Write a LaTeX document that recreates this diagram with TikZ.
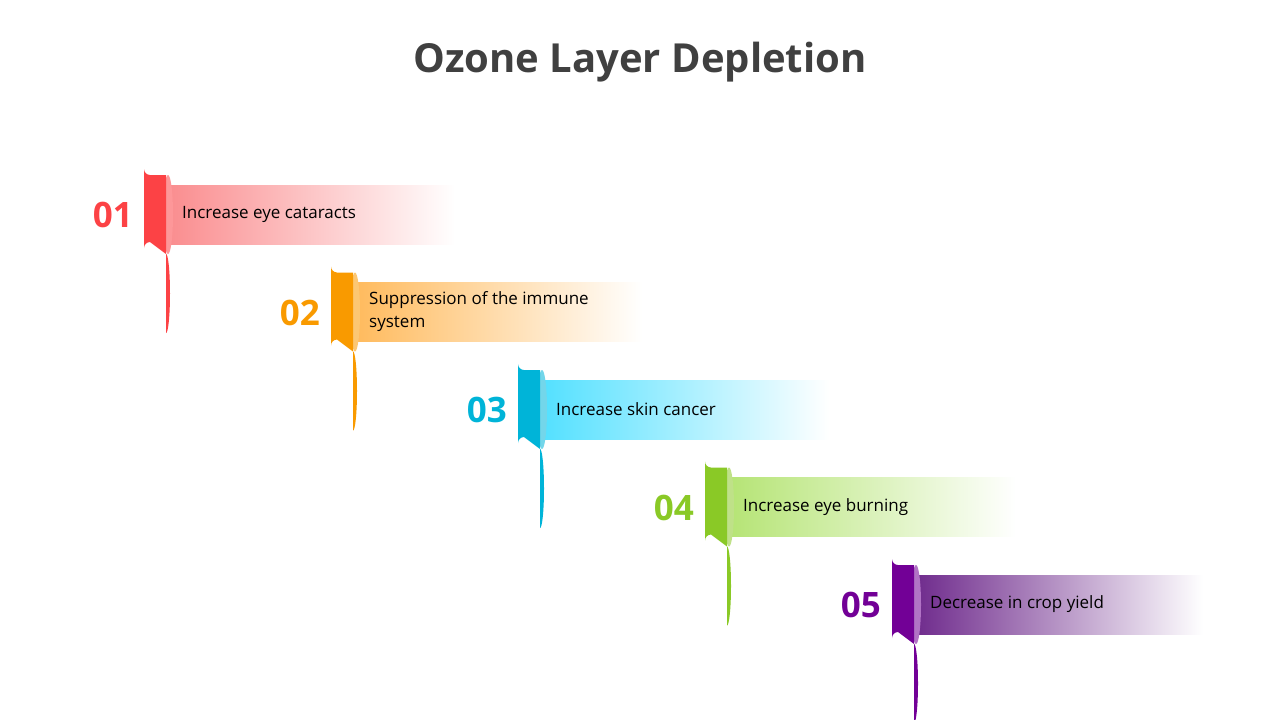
\documentclass[tikz,border=0pt]{standalone}
\usepackage{fontspec}
\setmainfont{Open Sans}
\begin{document}
\begin{tikzpicture}[x=1pt,y=-1pt,
  numtxt/.style={anchor=east,font=\bfseries\fontsize{35}{40}\selectfont,inner sep=0},
  bodytxt/.style={anchor=west,font=\fontsize{17}{23}\selectfont,text=black,align=left,inner sep=0}]
\useasboundingbox[fill=white] (0,0) rectangle (1280,720);
\node[font=\bfseries\fontsize{40}{46}\selectfont,text=black!75] (title) at (640,62) {Ozone Layer Depletion};
\definecolor{t1}{HTML}{FC4245}\definecolor{b1}{HTML}{FA8C8E}
\definecolor{t2}{HTML}{F99A00}\definecolor{b2}{HTML}{FFBA5C}
\definecolor{t3}{HTML}{00B4D8}\definecolor{b3}{HTML}{52E0FF}
\definecolor{t4}{HTML}{8AC926}\definecolor{b4}{HTML}{B5E474}
\definecolor{t5}{HTML}{720096}\definecolor{b5}{HTML}{6E2A8C}
\foreach \i/\n/\txt in {0/01/Increase eye cataracts,1/02/{Suppression of the immune\\system},2/03/Increase skin cancer,3/04/Increase eye burning,4/05/Decrease in crop yield}{
  \pgfmathtruncatemacro{\k}{\i+1}
  \pgfmathsetmacro{\X}{144+187*\i}
  \pgfmathsetmacro{\Y}{175+97.5*\i}
  \shade[left color=b\k, right color=white] (\X+22,\Y+10) rectangle (\X+311,\Y+69);
  \fill[t\k!55!white] (\X+24,\Y+39.5) ellipse [x radius=5, y radius=39.5];
  \fill[t\k] (\X+22,\Y) -- (\X+6,\Y) arc[start angle=90,end angle=180,radius=6] -- (\X,\Y+73) arc[start angle=180,end angle=270,radius=6] -- (\X+22,\Y+79) arc[start angle=-90,end angle=90,x radius=4,y radius=39.5] -- cycle;
  \node[numtxt,text=t\k] (n\k) at (\X-11,\Y+40) {\n};
  \node[bodytxt] (l\k) at (\X+38,\Y+39.5) {\txt};
}
\end{tikzpicture}
\end{document}
